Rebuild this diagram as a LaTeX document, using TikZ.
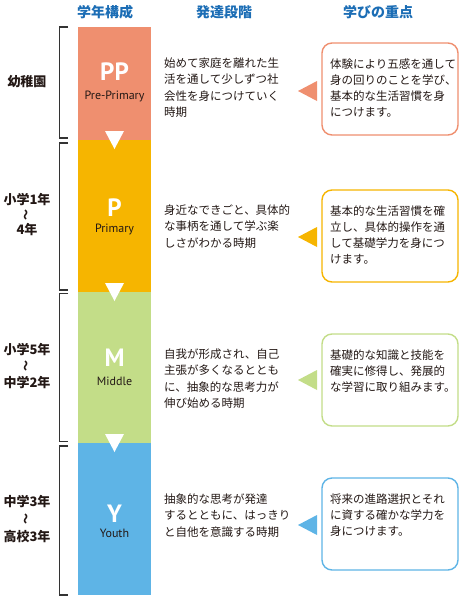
\documentclass[tikz,border=0pt]{standalone}
\usepackage{fontspec}
\newfontfamily\jp{Noto Sans CJK JP}
\newfontfamily\lat{PT Sans}
\usetikzlibrary{calc}
\definecolor{ppc}{HTML}{EF8F6F}
\definecolor{pc}{HTML}{F6B500}
\definecolor{mc}{HTML}{C3DD88}
\definecolor{yc}{HTML}{5EB4E6}
\definecolor{headc}{HTML}{1B6DB5}
\definecolor{txt}{HTML}{231815}
\definecolor{brk}{HTML}{333333}
\begin{document}
\begin{tikzpicture}[x=1pt,y=-1pt,
  bar/.style={draw=none,minimum width=73pt,inner sep=0pt,anchor=north west},
  big/.style={text=white,font=\lat\bfseries\fontsize{25}{25}\selectfont,inner sep=0pt},
  sub/.style={text=txt,font=\lat\fontsize{12}{12}\selectfont,inner sep=0pt},
  head/.style={text=headc,font=\jp\bfseries\fontsize{14}{14}\selectfont,inner sep=0pt},
  lab/.style={text=txt,font=\jp\bfseries\fontsize{13}{13}\selectfont,inner sep=0pt},
  tld/.style={text=txt,font=\jp\bfseries\fontsize{11}{11}\selectfont,inner sep=0pt,rotate=90},
  desc/.style={text=txt,font=\jp\fontsize{11.5}{16.3}\selectfont,align=left,inner sep=0pt,anchor=west},
  boxt/.style={text=txt,font=\jp\fontsize{11.5}{16}\selectfont,align=left,inner sep=0pt,anchor=west},
  rbox/.style={rounded corners=10pt,line width=1.4pt,fill=white},
  brack/.style={draw=brk,line width=1.8pt}
]
\useasboundingbox (0,0) rectangle (460,600);

% headers
\node[head] (h1) at (105,12) {学年構成};
\node[head] (h2) at (224,12) {発達段階};
\node[head] (h3) at (378,12) {学びの重点};

% bars
\node[bar,fill=ppc,minimum height=113pt] (pp) at (78,27) {};
\node[bar,fill=pc,minimum height=152pt] (p) at (78,140) {};
\node[bar,fill=mc,minimum height=151pt] (m) at (78,292) {};
\node[bar,fill=yc,minimum height=152pt] (y) at (78,443) {};

% bar labels
\node[big] (ppl) at (114.5,71.5) {PP};
\node[sub] (pps) at (114.5,96) {Pre-Primary};
\node[big] (pl) at (114.5,208) {P};
\node[sub] (ps) at (114.5,229) {Primary};
\node[big] (ml) at (114.5,358) {M};
\node[sub] (ms) at (114.5,381) {Middle};
\node[big] (yl) at (114.5,514) {Y};
\node[sub] (ys) at (114.5,533) {Youth};

% down triangles
\foreach \b in {140,292,443}{
  \fill[white] (105,\b-9) -- (124,\b-9) -- (114.5,\b+9) -- cycle;
}

% brackets
\draw[brack] (68,27) -- (59.5,27) -- (59.5,138) -- (68,138);
\draw[brack] (68,143) -- (59.5,143) -- (59.5,290) -- (68,290);
\draw[brack] (68,293.5) -- (59.5,293.5) -- (59.5,441.5) -- (68,441.5);
\draw[brack] (68,446) -- (59.5,446) -- (59.5,595) -- (68,595);

% left labels
\node[lab] (k1) at (27,82) {幼稚園};
\node[lab] (k2a) at (27,200) {小学1年};
\node[tld] (k2t) at (27,215) {～};
\node[lab] (k2b) at (27,230) {4年};
\node[lab] (k3a) at (27,350) {小学5年};
\node[tld] (k3t) at (27,366) {～};
\node[lab] (k3b) at (27,383) {中学2年};
\node[lab] (k4a) at (27,502) {中学3年};
\node[tld] (k4t) at (27,519) {～};
\node[lab] (k4b) at (27,537) {高校3年};

% descriptions
\node[desc] (d1) at (164,87.5) {始めて家庭を離れた生\\活を通して少しずつ社\\会性を身につけていく\\時期};
\node[desc] (d2) at (164,226.5) {身近なできごと、具体的\\な事柄を通して学ぶ楽\\しさがわかる時期};
\node[desc] (d3) at (164,378.5) {自我が形成され、自己\\主張が多くなるととも\\に、抽象的な思考力が\\伸び始める時期};
\node[desc] (d4) at (164,515.5) {抽象的な思考が発達\\するとともに、はっきり\\と自他を意識する時期};

% right boxes
\draw[rbox,draw=ppc] (322,43) rectangle (458,135);
\draw[rbox,draw=pc] (322,190) rectangle (458,282);
\draw[rbox,draw=mc] (322,334) rectangle (458,426);
\draw[rbox,draw=yc] (322,478) rectangle (458,570);

\node[boxt] (b1) at (330,88) {体験により五感を通して\\身の回りのことを学び、\\基本的な生活習慣を身\\につけます。};
\node[boxt] (b2) at (330,234.5) {基本的な生活習慣を確\\立し、具体的操作を通\\して基礎学力を身につ\\けます。};
\node[boxt] (b3) at (330,371) {基礎的な知識と技能を\\確実に修得し、発展的\\な学習に取り組みます。};
\node[boxt] (b4) at (330,515.5) {将来の進路選択とそれ\\に資する確かな学力を\\身につけます。};

% left-pointing triangles
\fill[ppc] (298,91) -- (317,81) -- (317,101) -- cycle;
\fill[pc] (298,237) -- (317,227) -- (317,247) -- cycle;
\fill[mc] (298,380) -- (317,370) -- (317,390) -- cycle;
\fill[yc] (298,525) -- (317,515) -- (317,535) -- cycle;
\end{tikzpicture}
\end{document}
